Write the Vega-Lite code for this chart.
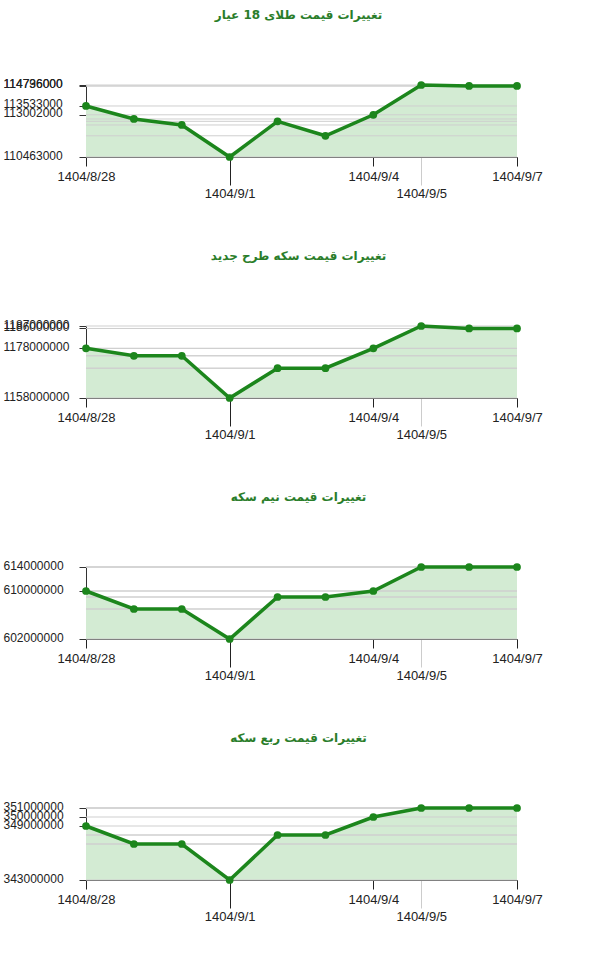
{
  "$schema": "https://vega.github.io/schema/vega-lite/v6.json",
  "padding": {"left": 3, "top": 9, "right": 5, "bottom": 5},
  "background": "white",
  "spacing": 50,
  "data": {
    "values": [
      {"item": "gold18", "date": "1404/8/28", "value": 113533000},
      {"item": "gold18", "date": "1404/8/29", "value": 112750000},
      {"item": "gold18", "date": "1404/8/30", "value": 112390000},
      {"item": "gold18", "date": "1404/9/1", "value": 110463000},
      {"item": "gold18", "date": "1404/9/2", "value": 112610000},
      {"item": "gold18", "date": "1404/9/3", "value": 111740000},
      {"item": "gold18", "date": "1404/9/4", "value": 113002000},
      {"item": "gold18", "date": "1404/9/5", "value": 114796000},
      {"item": "gold18", "date": "1404/9/6", "value": 114736000},
      {"item": "gold18", "date": "1404/9/7", "value": 114736000},
      {"item": "coin", "date": "1404/8/28", "value": 1178000000},
      {"item": "coin", "date": "1404/8/29", "value": 1175000000},
      {"item": "coin", "date": "1404/8/30", "value": 1175000000},
      {"item": "coin", "date": "1404/9/1", "value": 1158000000},
      {"item": "coin", "date": "1404/9/2", "value": 1170000000},
      {"item": "coin", "date": "1404/9/3", "value": 1170000000},
      {"item": "coin", "date": "1404/9/4", "value": 1178000000},
      {"item": "coin", "date": "1404/9/5", "value": 1187000000},
      {"item": "coin", "date": "1404/9/6", "value": 1186000000},
      {"item": "coin", "date": "1404/9/7", "value": 1186000000},
      {"item": "half", "date": "1404/8/28", "value": 610000000},
      {"item": "half", "date": "1404/8/29", "value": 607000000},
      {"item": "half", "date": "1404/8/30", "value": 607000000},
      {"item": "half", "date": "1404/9/1", "value": 602000000},
      {"item": "half", "date": "1404/9/2", "value": 609000000},
      {"item": "half", "date": "1404/9/3", "value": 609000000},
      {"item": "half", "date": "1404/9/4", "value": 610000000},
      {"item": "half", "date": "1404/9/5", "value": 614000000},
      {"item": "half", "date": "1404/9/6", "value": 614000000},
      {"item": "half", "date": "1404/9/7", "value": 614000000},
      {"item": "quarter", "date": "1404/8/28", "value": 349000000},
      {"item": "quarter", "date": "1404/8/29", "value": 347000000},
      {"item": "quarter", "date": "1404/8/30", "value": 347000000},
      {"item": "quarter", "date": "1404/9/1", "value": 343000000},
      {"item": "quarter", "date": "1404/9/2", "value": 348000000},
      {"item": "quarter", "date": "1404/9/3", "value": 348000000},
      {"item": "quarter", "date": "1404/9/4", "value": 350000000},
      {"item": "quarter", "date": "1404/9/5", "value": 351000000},
      {"item": "quarter", "date": "1404/9/6", "value": 351000000},
      {"item": "quarter", "date": "1404/9/7", "value": 351000000}
    ]
  },
  "vconcat": [
    {
      "title": "تغییرات قیمت طلای 18 عیار",
      "width": 431,
      "height": 72,
      "transform": [{"filter": "datum.item == 'gold18'"}],
      "encoding": {
        "y": {
          "field": "value", "type": "quantitative", "stack": null,
          "scale": {"zero": false, "nice": false},
          "axis": {"values": [110463000, 113002000, 113533000, 114736000, 114796000], "labelOverlap": false}
        }
      },
      "layer": [
        {
          "mark": {"type": "area", "color": "#d3ebd3", "opacity": 1},
          "encoding": {
            "x": {
              "field": "date", "type": "ordinal", "sort": null,
              "scale": {"type": "point", "padding": 0},
              "axis": {
                "values": ["1404/8/28", "1404/9/1", "1404/9/4", "1404/9/5", "1404/9/7"],
                "tickSize": {"condition": {"test": "datum.value == '1404/9/1' || datum.value == '1404/9/5'", "value": 28}, "value": 9},
                "labelPadding": {"condition": {"test": "datum.value == '1404/9/1' || datum.value == '1404/9/5'", "value": 2}, "value": 4},
                "tickColor": {"condition": {"test": "datum.value == '1404/9/5'", "value": "#cccccc"}, "value": "#222222"},
                "grid": true,
                "gridColor": "#cccccc",
                "gridOpacity": {"condition": {"test": "datum.value == '1404/9/5'", "value": 1}, "value": 0}
              }
            }
          }
        },
        {
          "mark": {"type": "rule", "color": "#cfcfcf", "strokeWidth": 1},
          "encoding": {}
        },
        {
          "mark": {"type": "line", "color": "#1c861c", "strokeWidth": 3.5},
          "encoding": {"x": {"field": "date", "type": "ordinal", "sort": null}}
        },
        {
          "mark": {"type": "point", "filled": true, "size": 60, "color": "#1c861c", "opacity": 1},
          "encoding": {"x": {"field": "date", "type": "ordinal", "sort": null}}
        }
      ]
    },
    {
      "title": "تغییرات قیمت سکه طرح جدید",
      "width": 431,
      "height": 72,
      "transform": [{"filter": "datum.item == 'coin'"}],
      "encoding": {
        "y": {
          "field": "value", "type": "quantitative", "stack": null,
          "scale": {"zero": false, "nice": false},
          "axis": {"values": [1158000000, 1178000000, 1186000000, 1187000000], "labelOverlap": false}
        }
      },
      "layer": [
        {
          "mark": {"type": "area", "color": "#d3ebd3", "opacity": 1},
          "encoding": {
            "x": {
              "field": "date", "type": "ordinal", "sort": null,
              "scale": {"type": "point", "padding": 0},
              "axis": {
                "values": ["1404/8/28", "1404/9/1", "1404/9/4", "1404/9/5", "1404/9/7"],
                "tickSize": {"condition": {"test": "datum.value == '1404/9/1' || datum.value == '1404/9/5'", "value": 28}, "value": 9},
                "labelPadding": {"condition": {"test": "datum.value == '1404/9/1' || datum.value == '1404/9/5'", "value": 2}, "value": 4},
                "tickColor": {"condition": {"test": "datum.value == '1404/9/5'", "value": "#cccccc"}, "value": "#222222"},
                "grid": true,
                "gridColor": "#cccccc",
                "gridOpacity": {"condition": {"test": "datum.value == '1404/9/5'", "value": 1}, "value": 0}
              }
            }
          }
        },
        {
          "mark": {"type": "rule", "color": "#cfcfcf", "strokeWidth": 1},
          "encoding": {}
        },
        {
          "mark": {"type": "line", "color": "#1c861c", "strokeWidth": 3.5},
          "encoding": {"x": {"field": "date", "type": "ordinal", "sort": null}}
        },
        {
          "mark": {"type": "point", "filled": true, "size": 60, "color": "#1c861c", "opacity": 1},
          "encoding": {"x": {"field": "date", "type": "ordinal", "sort": null}}
        }
      ]
    },
    {
      "title": "تغییرات قیمت نیم سکه",
      "width": 431,
      "height": 72,
      "transform": [{"filter": "datum.item == 'half'"}],
      "encoding": {
        "y": {
          "field": "value", "type": "quantitative", "stack": null,
          "scale": {"zero": false, "nice": false},
          "axis": {"values": [602000000, 610000000, 614000000], "labelOverlap": false}
        }
      },
      "layer": [
        {
          "mark": {"type": "area", "color": "#d3ebd3", "opacity": 1},
          "encoding": {
            "x": {
              "field": "date", "type": "ordinal", "sort": null,
              "scale": {"type": "point", "padding": 0},
              "axis": {
                "values": ["1404/8/28", "1404/9/1", "1404/9/4", "1404/9/5", "1404/9/7"],
                "tickSize": {"condition": {"test": "datum.value == '1404/9/1' || datum.value == '1404/9/5'", "value": 28}, "value": 9},
                "labelPadding": {"condition": {"test": "datum.value == '1404/9/1' || datum.value == '1404/9/5'", "value": 2}, "value": 4},
                "tickColor": {"condition": {"test": "datum.value == '1404/9/5'", "value": "#cccccc"}, "value": "#222222"},
                "grid": true,
                "gridColor": "#cccccc",
                "gridOpacity": {"condition": {"test": "datum.value == '1404/9/5'", "value": 1}, "value": 0}
              }
            }
          }
        },
        {
          "mark": {"type": "rule", "color": "#cfcfcf", "strokeWidth": 1},
          "encoding": {}
        },
        {
          "mark": {"type": "line", "color": "#1c861c", "strokeWidth": 3.5},
          "encoding": {"x": {"field": "date", "type": "ordinal", "sort": null}}
        },
        {
          "mark": {"type": "point", "filled": true, "size": 60, "color": "#1c861c", "opacity": 1},
          "encoding": {"x": {"field": "date", "type": "ordinal", "sort": null}}
        }
      ]
    },
    {
      "title": "تغییرات قیمت ربع سکه",
      "width": 431,
      "height": 72,
      "transform": [{"filter": "datum.item == 'quarter'"}],
      "encoding": {
        "y": {
          "field": "value", "type": "quantitative", "stack": null,
          "scale": {"zero": false, "nice": false},
          "axis": {"values": [343000000, 349000000, 350000000, 351000000], "labelOverlap": false}
        }
      },
      "layer": [
        {
          "mark": {"type": "area", "color": "#d3ebd3", "opacity": 1},
          "encoding": {
            "x": {
              "field": "date", "type": "ordinal", "sort": null,
              "scale": {"type": "point", "padding": 0},
              "axis": {
                "values": ["1404/8/28", "1404/9/1", "1404/9/4", "1404/9/5", "1404/9/7"],
                "tickSize": {"condition": {"test": "datum.value == '1404/9/1' || datum.value == '1404/9/5'", "value": 28}, "value": 9},
                "labelPadding": {"condition": {"test": "datum.value == '1404/9/1' || datum.value == '1404/9/5'", "value": 2}, "value": 4},
                "tickColor": {"condition": {"test": "datum.value == '1404/9/5'", "value": "#cccccc"}, "value": "#222222"},
                "grid": true,
                "gridColor": "#cccccc",
                "gridOpacity": {"condition": {"test": "datum.value == '1404/9/5'", "value": 1}, "value": 0}
              }
            }
          }
        },
        {
          "mark": {"type": "rule", "color": "#cfcfcf", "strokeWidth": 1},
          "encoding": {}
        },
        {
          "mark": {"type": "line", "color": "#1c861c", "strokeWidth": 3.5},
          "encoding": {"x": {"field": "date", "type": "ordinal", "sort": null}}
        },
        {
          "mark": {"type": "point", "filled": true, "size": 60, "color": "#1c861c", "opacity": 1},
          "encoding": {"x": {"field": "date", "type": "ordinal", "sort": null}}
        }
      ]
    }
  ],
  "config": {
    "view": {"stroke": null},
    "title": {"font": "DejaVu Sans", "fontSize": 12, "fontWeight": "bold", "color": "#2a7d2a", "anchor": "middle", "offset": 55, "dx": -3},
    "axis": {
      "title": null,
      "labelFont": "Liberation Sans",
      "labelFontSize": 12,
      "labelColor": "#222222",
      "domainColor": "#333333",
      "tickColor": "#333333",
      "labelOverlap": false,
      "labelBound": false,
      "grid": false,
      "zindex": 1
    },
    "axisX": {"labelAngle": 0, "labelFontSize": 13},
    "axisY": {"format": "d", "tickSize": 7, "labelPadding": 76, "labelAlign": "left", "labelOffset": -2}
  }
}
